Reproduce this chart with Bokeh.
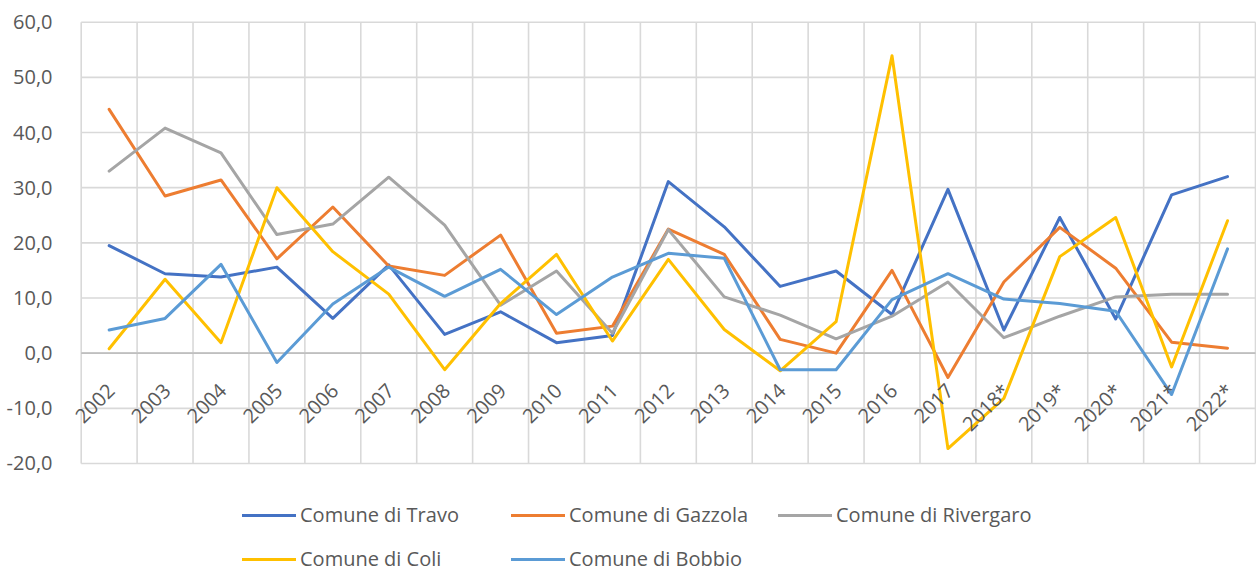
import numpy as np
from bokeh.plotting import figure
from bokeh.models import (Range1d, FixedTicker, CustomJSTickFormatter,
                          Legend, LegendItem, LabelSet, ColumnDataSource)
from bokeh.core.properties import value
from bokeh.embed import file_html
from bokeh.resources import INLINE

# ---------------- data ----------------
years = ["2002", "2003", "2004", "2005", "2006", "2007", "2008", "2009", "2010",
         "2011", "2012", "2013", "2014", "2015", "2016", "2017", "2018*", "2019*",
         "2020*", "2021*", "2022*"]

travo = [19.5, 14.4, 13.8, 15.6, 6.3, 16.0, 3.4, 7.5, 1.9, 3.2, 31.1, 22.9, 12.1,
         14.9, 7.0, 29.7, 4.2, 24.6, 6.2, 28.7, 32.0]
gazzola = [44.2, 28.5, 31.4, 17.1, 26.5, 15.8, 14.1, 21.4, 3.6, 4.9, 22.5, 17.9, 2.5,
           0.0, 15.0, -4.4, 12.9, 22.8, 15.4, 2.0, 0.9]
rivergaro = [33.0, 40.8, 36.3, 21.5, 23.4, 31.9, 23.2, 8.7, 14.9, 3.6, 22.4, 10.2, 6.9,
             2.6, 6.7, 12.9, 2.8, 6.7, 10.2, 10.7, 10.7]
coli = [0.8, 13.4, 1.9, 30.0, 18.4, 10.7, -3.0, 9.0, 17.9, 2.2, 17.0, 4.3, -3.2,
        5.7, 53.9, -17.3, -8.2, 17.5, 24.6, -2.5, 24.0]
bobbio = [4.2, 6.3, 16.1, -1.7, 8.9, 15.6, 10.3, 15.2, 7.0, 13.8, 18.1, 17.2, -3.0,
          -3.0, 9.7, 14.4, 9.8, 9.0, 7.6, -7.5, 18.9]

series_names = ["Comune di Travo", "Comune di Gazzola", "Comune di Rivergaro",
                "Comune di Coli", "Comune di Bobbio"]
series_values = [travo, gazzola, rivergaro, coli, bobbio]
series_colors = ["#4472C4", "#ED7D31", "#A5A5A5", "#FFC000", "#5B9BD5"]

y_ticks = [-20, -10, 0, 10, 20, 30, 40, 50, 60]

# ---------------- figure ----------------
FONT = "Open Sans"
TXT = "#595959"
GRID = "#D9D9D9"
n = len(years)
xs = list(range(n))
x_lo, x_hi = -0.5, n - 0.5
y_lo, y_hi = y_ticks[0], y_ticks[-1]

# the frame is a little larger than the plot area so the legend and the
# rotated category labels sit inside it
p = figure(width=1256, height=572, output_backend="svg", toolbar_location=None,
           x_range=Range1d(x_lo - 0.209, x_hi + 0.018),
           y_range=Range1d(y_lo - 19.76, y_hi + 1.03),
           x_axis_location=None,
           min_border_left=69, min_border_right=0, min_border_top=16,
           min_border_bottom=0)
p.outline_line_color = None
p.xgrid.visible = False
p.ygrid.visible = False

p.yaxis.ticker = FixedTicker(ticks=y_ticks)
p.yaxis.formatter = CustomJSTickFormatter(code="return tick.toFixed(1).replace('.', ',');")
p.yaxis.axis_line_color = None
p.yaxis.major_tick_line_color = None
p.yaxis.minor_tick_line_color = None
p.yaxis.major_label_text_font = FONT
p.yaxis.major_label_text_font_size = "20px"
p.yaxis.major_label_text_color = TXT
p.yaxis.major_label_standoff = 11

# plot-area grid (horizontal at value ticks, vertical between categories)
p.segment(x0=[x_lo] * len(y_ticks), x1=[x_hi] * len(y_ticks), y0=y_ticks, y1=y_ticks,
          line_color=GRID, line_width=1.6)
bounds = [i - 0.5 for i in range(n + 1)]
p.segment(x0=bounds, x1=bounds, y0=[y_lo] * len(bounds), y1=[y_hi] * len(bounds),
          line_color=GRID, line_width=1.6)
# horizontal category axis crossing at zero
p.segment(x0=[x_lo], x1=[x_hi], y0=[0], y1=[0], line_color="#BFBFBF", line_width=1.6)

renderers = []
for vals, col in zip(series_values, series_colors):
    r = p.line(xs, vals, line_color=col, line_width=3,
               line_join="round", line_cap="round")
    renderers.append(r)

# category labels under the zero line, rotated 45 degrees
lab_src = ColumnDataSource(dict(x=xs, y=[0] * n, t=years))
p.add_layout(LabelSet(x="x", y="y", text="t", source=lab_src, angle=np.pi / 4,
                      text_align="right", text_baseline="middle",
                      x_offset=2, y_offset=-34,
                      text_font=value(FONT), text_font_size=value("20px"),
                      text_color=TXT))

# legend: 3 columns x 2 rows, each entry placed on its own
leg_pos = [(173, 44), (442, 44), (709, 44), (173, 0), (442, 0)]
for name, r, (lx, ly) in zip(series_names, renderers, leg_pos):
    leg = Legend(items=[LegendItem(label=name, renderers=[r])], location=(lx, ly),
                 orientation="horizontal", padding=0, margin=0, spacing=0,
                 glyph_width=54, glyph_height=24, label_height=24, label_standoff=4,
                 label_text_font=FONT, label_text_font_size="20px",
                 label_text_color=TXT, border_line_alpha=0, background_fill_alpha=0)
    p.add_layout(leg)

open("out.html", "w").write(file_html(p, INLINE))
